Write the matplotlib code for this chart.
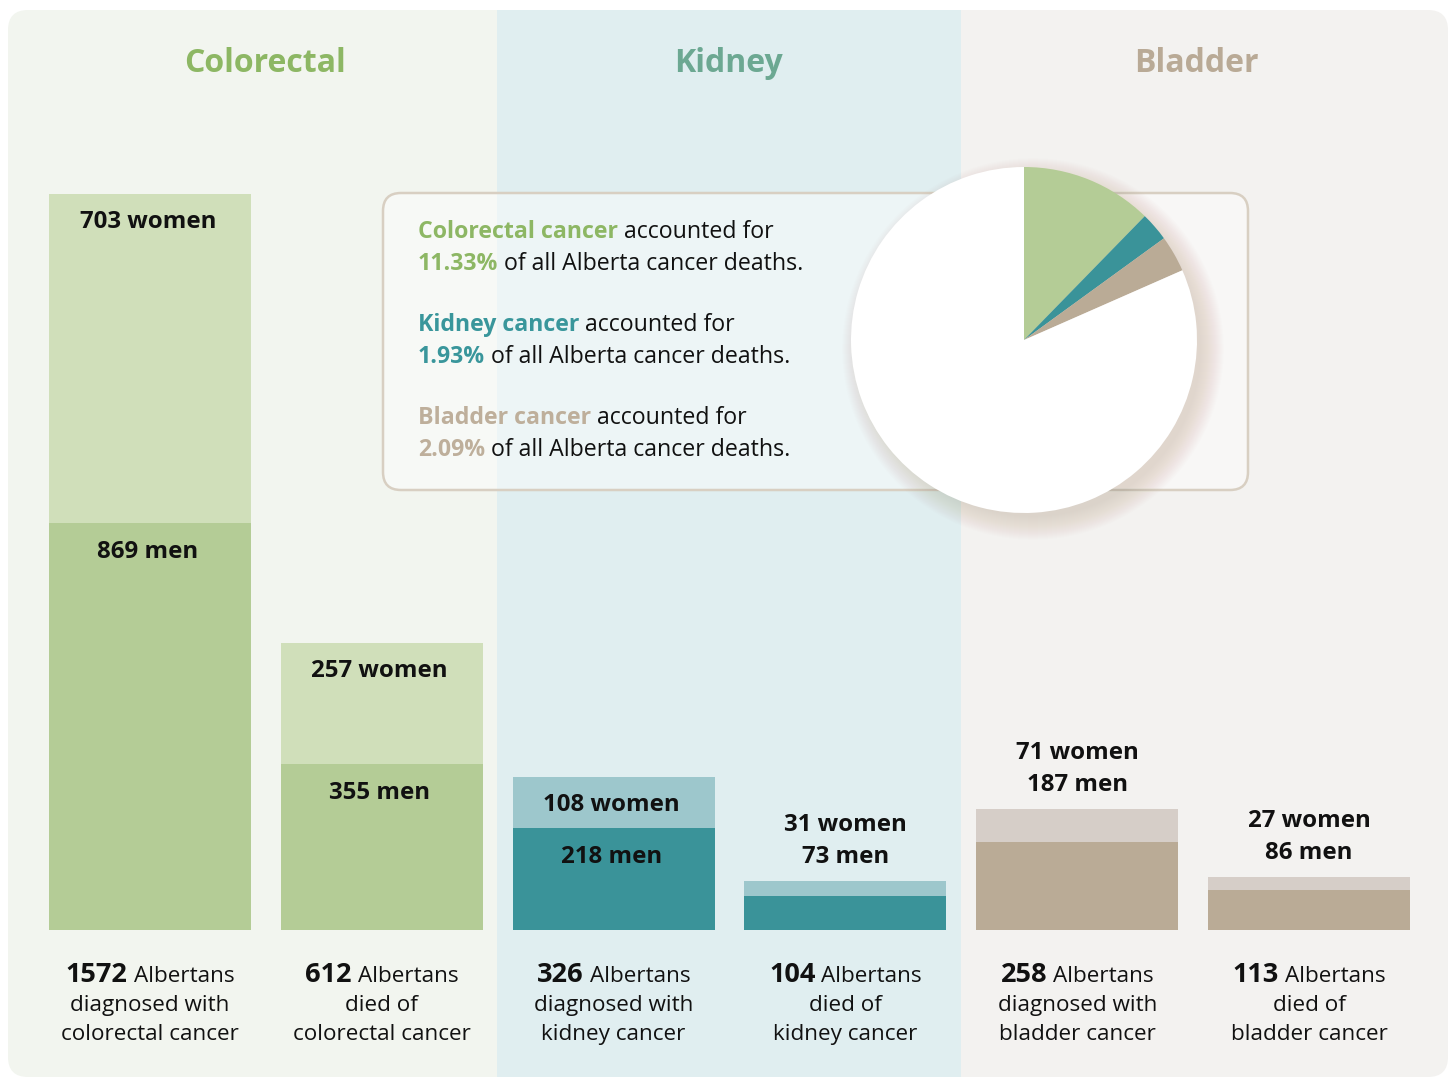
import matplotlib
matplotlib.use("Agg")
import matplotlib.pyplot as plt
from matplotlib.patches import FancyBboxPatch, Rectangle, Circle

plt.rcParams['font.family'] = ['Open Sans', 'DejaVu Sans']

# ---------------- data ----------------
cancers = ["Colorectal", "Kidney", "Bladder"]
bar_cancer = ["colorectal", "colorectal", "kidney", "kidney", "bladder", "bladder"]
bar_kind = ["diagnosed with", "died of", "diagnosed with", "died of", "diagnosed with", "died of"]
women = [703, 257, 108, 31, 71, 27]
men = [869, 355, 218, 73, 187, 86]
totals = [1572, 612, 326, 104, 258, 113]
death_pct = ["11.33%", "1.93%", "2.09%"]
pie_drawn = [12.3, 2.7, 3.4]          # wedge sizes (%) as drawn in the pie
label_inside = [True, True, True, False, False, False]

# ---------------- style ----------------
W, H = 1450, 1079
bg_cols = ["#F2F5EF", "#E0EEF0", "#F3F2F0"]
col_edges = [8, 497, 961, 1448]
head_cols = ["#8DB764", "#6CA892", "#B9AA96"]
text_cols = ["#8DB764", "#39969B", "#BEAF9B"]
men_cols = ["#B4CC96", "#B4CC96", "#3A9399", "#3A9399", "#BAAB96", "#BAAB96"]
women_cols = ["#D0DFBA", "#D0DFBA", "#9DC7CC", "#9DC7CC", "#D6CEC8", "#D6CEC8"]
pie_cols = ["#B4CC96", "#3A9399", "#BAAB96"]

fig = plt.figure(figsize=(W / 100, H / 100), dpi=100)
fig.patch.set_facecolor("white")

# background axes in pixel coordinates
bg = fig.add_axes([0, 0, 1, 1])
bg.set_xlim(0, W)
bg.set_ylim(H, 0)
bg.axis("off")

panel = FancyBboxPatch((col_edges[0], 10), col_edges[-1] - col_edges[0], 1067,
                       boxstyle="round,pad=0,rounding_size=20",
                       facecolor="none", edgecolor="none")
bg.add_patch(panel)
for i in range(3):
    r = Rectangle((col_edges[i], 0), col_edges[i + 1] - col_edges[i], H,
                  facecolor=bg_cols[i], edgecolor="none", zorder=0)
    bg.add_patch(r)
    r.set_clip_path(panel)

# titles
head_x = [265, 729, 1196]
for i, name in enumerate(cancers):
    bg.text(head_x[i], 72, name, ha="center", va="baseline", fontsize=23,
            fontweight="bold", color=head_cols[i])

# info box
box = FancyBboxPatch((383, 193), 865, 297, boxstyle="round,pad=0,rounding_size=18",
                     facecolor=(1, 1, 1, 0.45), edgecolor="#D8CFC2", linewidth=1.8,
                     zorder=2)
bg.add_patch(box)

fig.canvas.draw()
renderer = fig.canvas.get_renderer()


def runs(x, y, parts, center=False):
    """parts: list of (text, fontsize, weight, color); placed on one baseline."""
    objs = []
    for s, fs, wt, c in parts:
        t = bg.text(0, y, s, fontsize=fs, fontweight=wt, color=c,
                    ha="left", va="baseline", zorder=5)
        objs.append(t)
    widths = [o.get_window_extent(renderer).width for o in objs]
    sp = bg.text(0, 0, "a a", fontsize=parts[-1][1])
    sp2 = bg.text(0, 0, "aa", fontsize=parts[-1][1])
    space = sp.get_window_extent(renderer).width - sp2.get_window_extent(renderer).width
    sp.remove(); sp2.remove()
    total = sum(widths) + space * (len(objs) - 1)
    cur = x - total / 2 if center else x
    for o, w in zip(objs, widths):
        o.set_x(cur)
        cur += w + space


info_fs = 16.7
info_base = [238, 270, 331, 363, 424, 456]
for i in range(3):
    runs(418, info_base[2 * i], [(f"{cancers[i]} cancer", info_fs, "bold", text_cols[i]),
                                 ("accounted for", info_fs, "normal", "#111111")])
    runs(418, info_base[2 * i + 1], [(death_pct[i], info_fs, "bold", text_cols[i]),
                                     ("of all Alberta cancer deaths.", info_fs, "normal", "#111111")])

# ---------------- bars ----------------
px_per_unit = 736 / 1572
step = 231.8
c0 = 150
left_px = c0 - 0.5 * step
ax = fig.add_axes([left_px / W, (H - 930) / H, 6 * step / W, 920 / H])
ax.set_xlim(-0.5, 5.5)
ax.set_ylim(0, 920 / px_per_unit)
ax.axis("off")
ax.patch.set_alpha(0)
xs = list(range(6))
bw = 202 / step
ax.bar(xs, men, width=bw, color=men_cols, linewidth=0)
ax.bar(xs, women, bottom=men, width=bw, color=women_cols, linewidth=0)

lab_fs = 17.3
for i in xs:
    top = men[i] + women[i]
    if label_inside[i]:
        ax.annotate(f"{women[i]} women", (i, top), xytext=(-1.5, -28 * 0.72),
                    textcoords="offset points", ha="center", va="center",
                    fontsize=lab_fs, fontweight="bold", color="#111111")
        ax.annotate(f"{men[i]} men", (i, men[i]), xytext=(-1.5, -29 * 0.72),
                    textcoords="offset points", ha="center", va="center",
                    fontsize=lab_fs, fontweight="bold", color="#111111")
    else:
        ax.annotate(f"{men[i]} men", (i, top), xytext=(0, 24 * 0.72),
                    textcoords="offset points", ha="center", va="center",
                    fontsize=lab_fs, fontweight="bold", color="#111111")
        ax.annotate(f"{women[i]} women", (i, top), xytext=(0, 56 * 0.72),
                    textcoords="offset points", ha="center", va="center",
                    fontsize=lab_fs, fontweight="bold", color="#111111")

# bottom captions
cap_fs = 16.2
for i in xs:
    cx = left_px + (i + 0.5) * step
    runs(cx, 982, [(f"{totals[i]}", 19.5, "bold", "#111111"),
                   ("Albertans", cap_fs, "normal", "#111111")], center=True)
    bg.text(cx, 1011, bar_kind[i], fontsize=cap_fs, ha="center", va="baseline", color="#111111")
    bg.text(cx, 1040, f"{bar_cancer[i]} cancer", fontsize=cap_fs, ha="center",
            va="baseline", color="#111111")

# ---------------- pie ----------------
R = 173
cx, cy = 1024, 340
half = 240
pax = fig.add_axes([(cx - half) / W, (H - cy - half) / H, 2 * half / W, 2 * half / H])
pax.set_xlim(-half / R, half / R)
pax.set_ylim(-half / R, half / R)
pax.set_aspect("equal")
pax.axis("off")
# soft shadow, offset to the lower right
for k in range(24):
    pax.add_patch(Circle((9 / R, -9 / R), 0.97 + k / R, facecolor="#7A6656",
                         edgecolor="none", alpha=0.0075, zorder=0))
vals = pie_drawn + [100 - sum(pie_drawn)]
pax.pie(vals, colors=pie_cols + ["white"], startangle=90, counterclock=False,
        radius=1, wedgeprops=dict(linewidth=0))
pax.set_xlim(-half / R, half / R)
pax.set_ylim(-half / R, half / R)

fig.savefig("out.png", dpi=100, facecolor="white")
